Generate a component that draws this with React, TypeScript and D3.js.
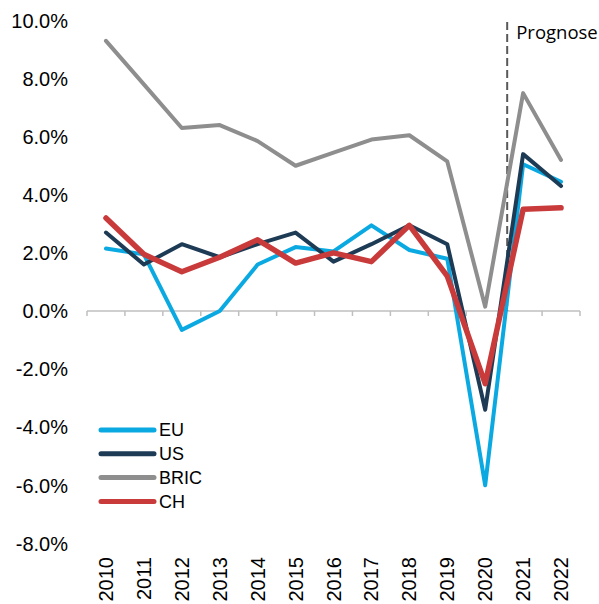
import React from 'react';
import * as d3 from 'd3';

// Data (annual GDP growth, %)
const years = ['2010', '2011', '2012', '2013', '2014', '2015', '2016', '2017', '2018', '2019', '2020', '2021', '2022'];
const eu = [2.15, 1.95, -0.65, 0.0, 1.6, 2.2, 2.05, 2.95, 2.1, 1.8, -6.0, 5.05, 4.45];
const us = [2.7, 1.6, 2.3, 1.85, 2.3, 2.7, 1.7, 2.3, 2.95, 2.3, -3.4, 5.4, 4.3];
const bric = [9.3, 7.8, 6.3, 6.4, 5.85, 5.0, 5.45, 5.9, 6.05, 5.15, 0.15, 7.5, 5.2];
const ch = [3.2, 1.95, 1.35, 1.85, 2.45, 1.65, 2.0, 1.7, 2.95, 1.2, -2.5, 3.5, 3.55];
const yTicks = [-8, -6, -4, -2, 0, 2, 4, 6, 8, 10];
const forecastStart = '2021';

const series = [
  { name: 'EU', values: eu, color: '#0BA9E1', width: 4 },
  { name: 'US', values: us, color: '#1E3B56', width: 4 },
  { name: 'BRIC', values: bric, color: '#8E8E8E', width: 4 },
  { name: 'CH', values: ch, color: '#C93A3B', width: 5.5 },
];

const W = 599;
const H = 604;
const font = "'Liberation Sans', Arial, sans-serif";

export default function App() {
  const x = d3.scaleBand<string>().domain(years).range([87, 580]).padding(0);
  const y = d3.scaleLinear().domain([-8, 10]).range([543.4, 20.5]);
  const cx = (yr: string) => (x(yr) ?? 0) + x.bandwidth() / 2;

  const line = d3
    .line<[string, number]>()
    .x((d) => cx(d[0]))
    .y((d) => y(d[1]))
    .curve(d3.curveLinear);

  const boundaries = years.map((yr) => x(yr) ?? 0).concat([x.range()[1]]);
  const progX = (x(forecastStart) ?? 0) + x.bandwidth() * 0.08;

  return (
    <svg
      width={W}
      height={H}
      viewBox={`0 0 ${W} ${H}`}
      style={{ position: 'absolute', left: 0, top: 0, background: '#fff' }}
      fontFamily={font}
    >
      {/* y labels */}
      {yTicks.map((t) => (
        <text key={t} x={68} y={y(t)} dy="0.36em" textAnchor="end" fontSize={20} fill="#000">
          {t.toFixed(1) + '%'}
        </text>
      ))}

      {/* x axis line & ticks */}
      <line x1={x.range()[0]} x2={x.range()[1]} y1={y(0)} y2={y(0)} stroke="#BFBFBF" strokeWidth={1.5} />
      {boundaries.map((b, i) => (
        <line key={i} x1={b} x2={b} y1={y(0)} y2={y(0) + 5} stroke="#BFBFBF" strokeWidth={1.5} />
      ))}

      {/* x labels */}
      {years.map((yr) => (
        <text
          key={yr}
          transform={`translate(${cx(yr) + 7},557) rotate(-90)`}
          textAnchor="end"
          fontSize={20}
          fill="#000"
        >
          {yr}
        </text>
      ))}

      {/* forecast marker */}
      <line x1={progX} x2={progX} y1={22} y2={y(0)} stroke="#595959" strokeWidth={2} strokeDasharray="8 4" />
      <text x={progX + 9} y={39} fontSize={18.5} fontFamily="'Open Sans', sans-serif" fill="#000">
        Prognose
      </text>

      {/* lines */}
      {[2, 0, 1, 3].map((i) => {
        const s = series[i];
        const pts = years.map((yr, k) => [yr, s.values[k]] as [string, number]);
        return (
          <path
            key={s.name}
            d={line(pts) ?? ''}
            fill="none"
            stroke={s.color}
            strokeWidth={s.width}
            strokeLinejoin="round"
            strokeLinecap="round"
          />
        );
      })}

      {/* legend */}
      {series.map((s, i) => (
        <g key={s.name} transform={`translate(101,${430 + i * 23.8})`}>
          <line x1={0} x2={53} y1={0} y2={0} stroke={s.color} strokeWidth={5} strokeLinecap="round" />
          <text x={58} y={0} dy="0.36em" fontSize={18} fill="#000">
            {s.name}
          </text>
        </g>
      ))}
    </svg>
  );
}
